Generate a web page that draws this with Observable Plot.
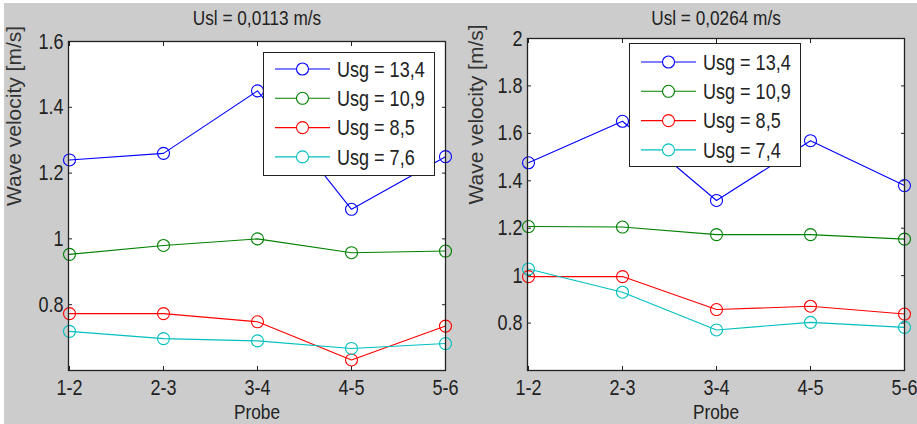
<!DOCTYPE html>
<html><head><meta charset="utf-8">
<script src="https://cdn.jsdelivr.net/npm/d3@7"></script>
<script src="https://cdn.jsdelivr.net/npm/@observablehq/plot@0.6"></script>
<style>
html,body{margin:0;padding:0;background:#fff;}
#page{position:relative;width:917px;height:424px;overflow:hidden;}
#bg{position:absolute;left:4px;top:3px;right:0;bottom:0;background:#cccccc;}
.panel{position:absolute;top:0;}
.panel svg{overflow:visible;}
.legend{position:absolute;background:#fff;border:1px solid #222;box-sizing:border-box;}
</style></head>
<body><div id="page"><div id="bg"></div></div>
<script>
// ---- data ----
const probes = ["1-2", "2-3", "3-4", "4-5", "5-6"];
const colors = ["#0000ff", "#008000", "#ff0000", "#00bfbf"];

const titleA = "Usl = 0,0113 m/s";
const namesA = ["Usg = 13,4", "Usg = 10,9", "Usg = 8,5", "Usg = 7,6"];
const a_usg134 = [1.24, 1.26, 1.45, 1.09, 1.25];
const a_usg109 = [0.953, 0.98, 1.0, 0.958, 0.963];
const a_usg85 = [0.773, 0.773, 0.748, 0.632, 0.735];
const a_usg76 = [0.719, 0.697, 0.69, 0.667, 0.682];
const yTicksA = [0.8, 1, 1.2, 1.4, 1.6];

const titleB = "Usl = 0,0264 m/s";
const namesB = ["Usg = 13,4", "Usg = 10,9", "Usg = 8,5", "Usg = 7,4"];
const b_usg134 = [1.476, 1.651, 1.317, 1.569, 1.38];
const b_usg109 = [1.207, 1.205, 1.173, 1.173, 1.154];
const b_usg85 = [0.996, 0.996, 0.857, 0.871, 0.838];
const b_usg74 = [1.028, 0.93, 0.771, 0.803, 0.782];
const yTicksB = [0.8, 1, 1.2, 1.4, 1.6, 1.8, 2];

const yLabel = "Wave velocity [m/s]";
const xLabel = "Probe";

// ---- drawing ----
const FONT = "'Liberation Sans',Arial,sans-serif";
const INK = "#222";
const SQUEEZE = 0.82; // reference text is horizontally condensed
const page = document.getElementById("page");

function panel(o) {
  const rows = [];
  o.series.forEach((vals, i) => vals.forEach((v, j) => rows.push({probe: probes[j], v, s: i})));
  const marks = [
    Plot.frame({fill: "white"}),
    Plot.axisY({anchor: "left", ticks: o.yTicks, tickSize: -4, tickPadding: 9, tickFormat: d => String(d), label: null, fontSize: 22, color: INK}),
    Plot.axisY({anchor: "right", ticks: o.yTicks, tickSize: -4, tickFormat: () => "", label: null, color: INK}),
    Plot.axisX({anchor: "bottom", tickSize: -4, tickPadding: 13, label: null, fontSize: 22, color: INK}),
    Plot.axisX({anchor: "top", tickSize: -4, tickFormat: () => "", label: null, color: INK})
  ];
  o.series.forEach((_, i) => {
    const d = rows.filter(r => r.s === i);
    marks.push(Plot.line(d, {x: "probe", y: "v", stroke: colors[i], strokeWidth: 1.1}));
    marks.push(Plot.dot(d, {x: "probe", y: "v", r: 6, stroke: colors[i], fill: "none", strokeWidth: 1.1}));
  });
  marks.push(Plot.frame({stroke: INK, strokeWidth: 1.3}));
  marks.push(Plot.text([o.title], {frameAnchor: "top", dy: 10 - o.mt, lineAnchor: "top", fontSize: 21, fill: INK}));
  marks.push(Plot.text([yLabel], {frameAnchor: "left", rotate: -90, dx: -o.ylabOff, fontSize: 21, fill: "#333"}));
  marks.push(Plot.text([xLabel], {frameAnchor: "bottom", dy: 34, lineAnchor: "top", fontSize: 21, fill: INK}));

  const svg = Plot.plot({
    width: o.width, height: 424,
    marginTop: o.mt, marginBottom: 424 - 370, marginLeft: o.ml, marginRight: o.mr,
    x: {type: "point", domain: probes, padding: 0},
    y: {domain: o.yDomain},
    style: {background: "transparent", fontFamily: FONT, fontSize: "22px", color: INK},
    marks
  });
  const div = document.createElement("div");
  div.className = "panel";
  div.style.left = o.left + "px";
  div.appendChild(svg);
  page.appendChild(div);

  // legend
  const lw = 172, lh = 124;
  const lg = document.createElement("div");
  lg.className = "legend";
  lg.style.left = o.legLeft + "px"; lg.style.top = o.legTop + "px";
  lg.style.width = lw + "px"; lg.style.height = lh + "px";
  const ns = "http://www.w3.org/2000/svg";
  const s = document.createElementNS(ns, "svg");
  s.setAttribute("width", lw - 2); s.setAttribute("height", lh - 2);
  s.style.display = "block";
  o.names.forEach((name, i) => {
    const y = o.legRow0 + i * 29.3;
    const ln = document.createElementNS(ns, "line");
    ln.setAttribute("x1", 11); ln.setAttribute("x2", 66); ln.setAttribute("y1", y); ln.setAttribute("y2", y);
    ln.setAttribute("stroke", colors[i]); ln.setAttribute("stroke-width", 1.1);
    s.appendChild(ln);
    const c = document.createElementNS(ns, "circle");
    c.setAttribute("cx", 38.5); c.setAttribute("cy", y); c.setAttribute("r", 6);
    c.setAttribute("fill", "white"); c.setAttribute("stroke", colors[i]); c.setAttribute("stroke-width", 1.1);
    s.appendChild(c);
    const t = document.createElementNS(ns, "text");
    t.setAttribute("x", 73); t.setAttribute("y", y);
    t.setAttribute("dominant-baseline", "central");
    t.setAttribute("font-family", FONT); t.setAttribute("font-size", 22); t.setAttribute("fill", INK);
    t.textContent = name;
    s.appendChild(t);
  });
  lg.appendChild(s);
  page.appendChild(lg);
}

panel({left: 0, width: 458, mt: 41, ml: 68, mr: 13, yDomain: [0.6, 1.6], yTicks: yTicksA, title: titleA, names: namesA,
  series: [a_usg134, a_usg109, a_usg85, a_usg76], ylabOff: 54, legLeft: 263, legTop: 52, legRow0: 16});
panel({left: 458, width: 459, mt: 38, ml: 69, mr: 13, yDomain: [0.6, 2], yTicks: yTicksB, title: titleB, names: namesB,
  series: [b_usg134, b_usg109, b_usg85, b_usg74], ylabOff: 51, legLeft: 629, legTop: 43, legRow0: 18});

// condense horizontal texts like the reference (scale about each text's anchor point)
page.querySelectorAll("text").forEach(t => {
  if (t.textContent === yLabel || !t.textContent) return;
  const b = t.getBBox();
  if (!b.width) return;
  const anchor = getComputedStyle(t).textAnchor;
  const ax = anchor === "middle" ? b.x + b.width / 2 : anchor === "end" ? b.x + b.width : b.x;
  const prev = t.getAttribute("transform") || "";
  t.setAttribute("transform", `${prev} translate(${ax},0) scale(${SQUEEZE},1) translate(${-ax},0)`.trim());
});
</script>
</body></html>
